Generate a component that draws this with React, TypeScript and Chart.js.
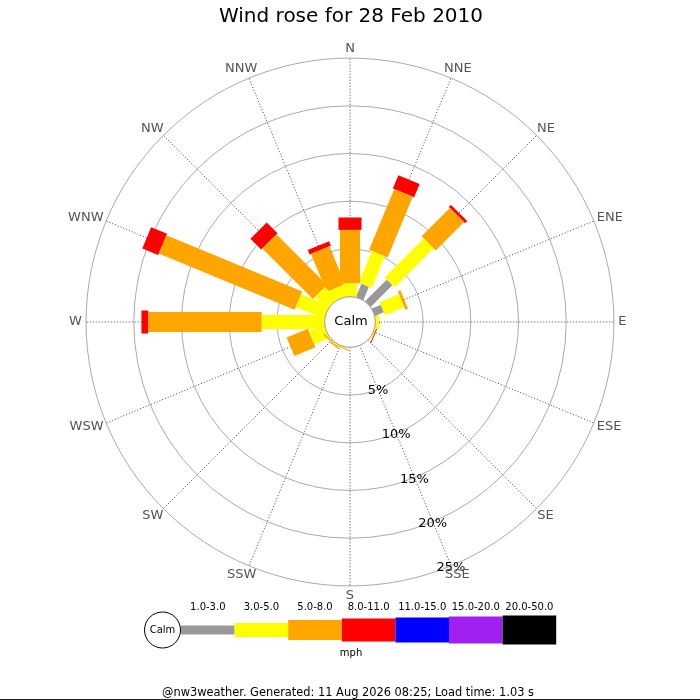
import { useEffect, useRef } from "react"
import { Chart, registerables } from "chart.js"
import type { Plugin, ChartDataset } from "chart.js"

Chart.register(...registerables)

// compass points, clockwise from north
const DIRECTIONS = ["N", "NNE", "NE", "ENE", "E", "ESE", "SE", "SSE", "S", "SSW", "SW", "WSW", "W", "WNW", "NW", "NNW"]

// speed bands (mph)
const SPEED_BINS = ["1.0-3.0", "3.0-5.0", "5.0-8.0", "8.0-11.0", "11.0-15.0", "15.0-20.0", "20.0-50.0"]

// % of the day per direction for each speed band
//                  N    NNE  NE   ENE  E    ESE   SE SSE S  SSW  SW    WSW  W     WNW   NW   NNW
const pct1to3 = [0, 1.5, 3.2, 1.0, 0, 0, 0, 0, 0, 0, 0, 0, 0, 0, 0, 0]
const pct3to5 = [1.4, 3.6, 5.8, 2.2, 0.4, 0.15, 0, 0, 0, 0.1, 0.1, 1.7, 6.6, 3.2, 1.8, 1.2]
const pct5to8 = [5.6, 6.9, 4.2, 0.3, 0, 0, 0, 0, 0, 0.1, 0.15, 2.4, 11.9, 15.4, 7.5, 4.3]
const pct8to11 = [1.3, 1.5, 0.3, 0, 0, 0.1, 0, 0, 0, 0, 0, 0, 0.7, 1.8, 1.6, 0.5]
const pct11to15 = [0, 0, 0, 0, 0, 0, 0, 0, 0, 0, 0, 0, 0, 0, 0, 0]
const pct15to20 = [0, 0, 0, 0, 0, 0, 0, 0, 0, 0, 0, 0, 0, 0, 0, 0]
const pct20to50 = [0, 0, 0, 0, 0, 0, 0, 0, 0, 0, 0, 0, 0, 0, 0, 0]

const RING_TICKS = [5, 10, 15, 20, 25]

const TITLE = "Wind rose for 28 Feb 2010"
const UNIT_LABEL = "mph"
const FOOTER = "@nw3weather. Generated: 11 Aug 2026 08:25; Load time: 1.03 s"

// styling
const BIN_COLORS = ["#999999", "#ffff00", "#ffa500", "#ff0000", "#0000ff", "#a020f0", "#000000"]
const BIN_WIDTHS = [8, 14, 20, 23, 25, 27, 29]
const CALM_R = 2.65 // radius of calm circle, in % units
const FONT = "'DejaVu Sans', Verdana, sans-serif"

const bands = [pct1to3, pct3to5, pct5to8, pct8to11, pct11to15, pct15to20, pct20to50]
const rad = (deg: number) => (deg * Math.PI) / 180

function buildDatasets() {
  const out: ChartDataset<"scatter">[] = []
  DIRECTIONS.forEach((dir, i) => {
    const a = rad(i * 22.5)
    const ux = Math.sin(a)
    const uy = Math.cos(a)
    let r = CALM_R
    bands.forEach((band, b) => {
      const v = band[i]
      if (!v) return
      const r2 = r + v
      out.push({
        label: `${dir} ${SPEED_BINS[b]}`,
        data: [
          { x: ux * r, y: uy * r },
          { x: ux * r2, y: uy * r2 },
        ],
        showLine: true,
        borderColor: BIN_COLORS[b],
        backgroundColor: BIN_COLORS[b],
        borderWidth: BIN_WIDTHS[b],
        borderCapStyle: "butt",
        // a (never-ending) dash keeps Chart.js off its pixel-column fast path,
        // which spikes on very short thick segments
        borderDash: [5000, 1],
        pointRadius: 0,
        pointHoverRadius: 0,
      } as ChartDataset<"scatter">)
      r = r2
    })
  })
  return out
}

const roseDecor: Plugin<"scatter"> = {
  id: "roseDecor",
  beforeDatasetsDraw(chart) {
    const { ctx } = chart
    const xs = chart.scales.x
    const ys = chart.scales.y
    const cx = xs.getPixelForValue(0)
    const cy = ys.getPixelForValue(0)
    const unit = xs.getPixelForValue(1) - cx
    const outer = CALM_R + RING_TICKS[RING_TICKS.length - 1]

    ctx.save()
    // rings
    ctx.strokeStyle = "#aaaaaa"
    ctx.lineWidth = 1
    RING_TICKS.forEach((t) => {
      ctx.beginPath()
      ctx.arc(cx, cy, (CALM_R + t) * unit, 0, Math.PI * 2)
      ctx.stroke()
    })
    // spokes
    ctx.strokeStyle = "#444444"
    ctx.setLineDash([1, 2])
    DIRECTIONS.forEach((_, i) => {
      const a = rad(i * 22.5)
      ctx.beginPath()
      ctx.moveTo(xs.getPixelForValue(Math.sin(a) * CALM_R), ys.getPixelForValue(Math.cos(a) * CALM_R))
      ctx.lineTo(xs.getPixelForValue(Math.sin(a) * outer), ys.getPixelForValue(Math.cos(a) * outer))
      ctx.stroke()
    })
    ctx.restore()
  },
  afterDatasetsDraw(chart) {
    const { ctx } = chart
    const xs = chart.scales.x
    const ys = chart.scales.y
    const cx = xs.getPixelForValue(0)
    const cy = ys.getPixelForValue(0)
    const unit = xs.getPixelForValue(1) - cx

    ctx.save()
    // calm circle
    ctx.beginPath()
    ctx.arc(cx, cy, CALM_R * unit, 0, Math.PI * 2)
    ctx.fillStyle = "#ffffff"
    ctx.fill()
    ctx.strokeStyle = "#999999"
    ctx.lineWidth = 1
    ctx.stroke()
    ctx.fillStyle = "#000000"
    ctx.font = `13px ${FONT}`
    ctx.textAlign = "center"
    ctx.textBaseline = "middle"
    ctx.fillText("Calm", cx + 1, cy)

    // percentage labels along SSE
    const a = rad(157.5)
    RING_TICKS.forEach((t) => {
      const r = CALM_R + t
      ctx.fillText(`${t}%`, xs.getPixelForValue(Math.sin(a) * r), ys.getPixelForValue(Math.cos(a) * r) + 1.5)
    })

    // compass labels
    ctx.fillStyle = "#555555"
    const labR = CALM_R + RING_TICKS[RING_TICKS.length - 1] + 0.45
    DIRECTIONS.forEach((dir, i) => {
      const d = rad(i * 22.5)
      const s = Math.sin(d)
      const c = Math.cos(d)
      const px = xs.getPixelForValue(s * labR)
      const py = ys.getPixelForValue(c * labR)
      const w = ctx.measureText(dir).width
      ctx.fillText(dir, px + (w / 2) * s, py - 5.5 * c)
    })
    ctx.restore()
  },
  afterDraw(chart) {
    const { ctx } = chart
    ctx.save()
    ctx.fillStyle = "#000000"
    ctx.textAlign = "center"
    ctx.textBaseline = "middle"
    ctx.font = `20px ${FONT}`
    ctx.fillText(TITLE, 351, 17)

    // legend
    const lx = 162.5
    const ly = 630
    ctx.beginPath()
    ctx.arc(lx, ly, 18, 0, Math.PI * 2)
    ctx.fillStyle = "#ffffff"
    ctx.fill()
    ctx.strokeStyle = "#000000"
    ctx.lineWidth = 1
    ctx.stroke()
    ctx.fillStyle = "#000000"
    ctx.font = `10px ${FONT}`
    ctx.fillText("Calm", lx, ly)
    const segW = 53.6
    SPEED_BINS.forEach((bin, b) => {
      const x0 = 181 + b * segW
      const h = BIN_WIDTHS[b] + (b === 0 ? 1 : 0)
      ctx.fillStyle = BIN_COLORS[b]
      ctx.fillRect(x0, ly - h / 2, segW, h)
      ctx.fillStyle = "#000000"
      ctx.fillText(bin, x0 + segW / 2, 607)
    })
    ctx.fillText(UNIT_LABEL, 351, 653)
    ctx.font = `11.4px ${FONT}`
    ctx.fillText(FOOTER, 348, 693)

    ctx.fillStyle = "#222222"
    ctx.fillRect(0, 699, 700, 1)
    ctx.restore()
  },
}

export default function App() {
  const canvasRef = useRef<HTMLCanvasElement>(null)
  const chartRef = useRef<Chart<"scatter"> | null>(null)

  useEffect(() => {
    if (!canvasRef.current) return
    if (chartRef.current) chartRef.current.destroy()

    chartRef.current = new Chart(canvasRef.current, {
      type: "scatter",
      data: { datasets: buildDatasets() },
      options: {
        responsive: false,
        animation: false,
        events: [],
        layout: { padding: { left: 35, right: 35, top: 7, bottom: 63 } },
        scales: {
          x: { type: "linear", min: -33, max: 33, display: false },
          y: { type: "linear", min: -33, max: 33, display: false },
        },
        plugins: {
          legend: { display: false },
          title: { display: false },
          tooltip: { enabled: false },
        },
      },
      plugins: [roseDecor],
    })

    return () => {
      chartRef.current?.destroy()
      chartRef.current = null
    }
  }, [])

  return (
    <div style={{ position: "fixed", left: 0, top: 0, width: 700, height: 700, background: "#ffffff" }}>
      <canvas ref={canvasRef} width={700} height={700} style={{ width: 700, height: 700 }} />
    </div>
  )
}
